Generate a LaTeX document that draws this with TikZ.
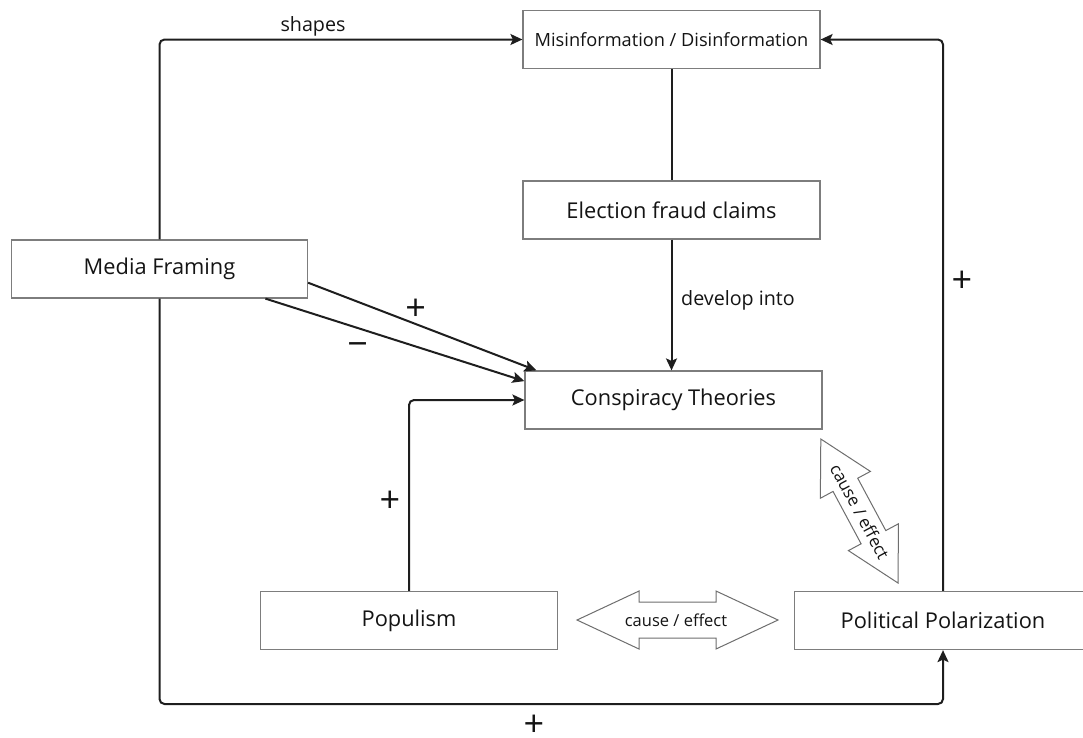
\documentclass[tikz,border=0pt]{standalone}
\usepackage{fontspec}
\setmainfont{Open Sans}
\usetikzlibrary{arrows.meta,calc}
\definecolor{boxgray}{RGB}{125,125,125}
\definecolor{linecol}{RGB}{30,30,30}
\definecolor{textcol}{RGB}{20,20,20}
\definecolor{fatgray}{RGB}{110,110,110}
\begin{document}
\begin{tikzpicture}[x=1pt,y=-1pt,
  box/.style={draw=boxgray, line width=1.2pt, fill=white, minimum width=297pt, minimum height=58pt, inner sep=0pt, text=textcol, font=\fontsize{21.8}{25}\selectfont},
  conn/.style={draw=linecol, line width=2pt, rounded corners=5pt},
  arr/.style={conn, -{Stealth[length=12pt,width=11pt,inset=2.5pt]}},
  lbl/.style={font=\fontsize{19.7}{23}\selectfont, text=textcol, inner sep=0pt},
  sign/.style={font=\fontsize{36}{36}\selectfont, text=textcol, inner sep=0pt},
  fat/.style={draw=fatgray, line width=1pt, fill=white, line join=miter},
  fattext/.style={font=\fontsize{16.5}{20}\selectfont, text=textcol, inner sep=0pt}
]
\useasboundingbox (0,0) rectangle (1083,737);

% boxes
\node[box, font=\fontsize{18.2}{22}\selectfont] (mis) at (671.5,39.5) {Misinformation / Disinformation};
\node[box] (elec) at (671.5,210) {Election fraud claims};
\node[box, minimum width=296pt] (media) at (159.5,269) {Media Framing};
\node[box] (consp) at (673.5,400) {Conspiracy Theories};
\node[box] (pop) at (409,620.5) {Populism};
\node[box] (pol) at (943,620.5) {Political Polarization};

% connectors
\coordinate (bend) at (943,704);
\draw[arr] (media.north) |- (mis.west);
\draw[arr] (pol.north) |- (mis.east);
\draw[arr] (media.south) |- (bend) -- (pol.south);
\draw[conn] (mis.south) -- (elec.north);
\draw[arr] (elec.south) -- (elec.south |- consp.north);
\draw[arr] ([yshift=-13.7pt]media.east) -- ([xshift=12pt]consp.north west);
\draw[arr] ([xshift=-42.7pt]media.south east) -- ([yshift=-10.7pt]consp.north west);
\draw[arr] (pop.north) |- (consp.west);

% labels
\node[lbl] (lshapes) at (313,26) {shapes};
\node[lbl] (ldev) at (738,300.7) {develop into};
\node[sign] (p1) at (415.7,309.3) {+};
\node[sign] (m1) at (357.7,349.3) {−};
\node[sign] (p2) at (390,502) {+};
\node[sign] (p3) at (962,282) {+};
\node[sign] (p4) at (534,726) {+};

% fat double arrows
\begin{scope}[shift={(677.5,620)}]
  \draw[fat] (-100.5,0) -- (-38.5,-29) -- (-38.5,-18) -- (38.5,-18) -- (38.5,-29) -- (100.5,0)
    -- (38.5,29) -- (38.5,18) -- (-38.5,18) -- (-38.5,29) -- cycle;
\end{scope}
\node[fattext] (ce1) at (676,620) {cause / effect};

\begin{scope}[shift={(859.4,511)}, rotate=-61.8]
  \draw[fat] (-81.7,0) -- (-29.7,-28.4) -- (-29.7,-14) -- (29.7,-14) -- (29.7,-28.4) -- (81.7,0)
    -- (29.7,28.4) -- (29.7,14) -- (-29.7,14) -- (-29.7,28.4) -- cycle;
\end{scope}
\node[fattext, rotate=-61.8, font=\fontsize{17}{20}\selectfont] (ce2) at (860,511.5) {cause / effect};
\end{tikzpicture}
\end{document}
